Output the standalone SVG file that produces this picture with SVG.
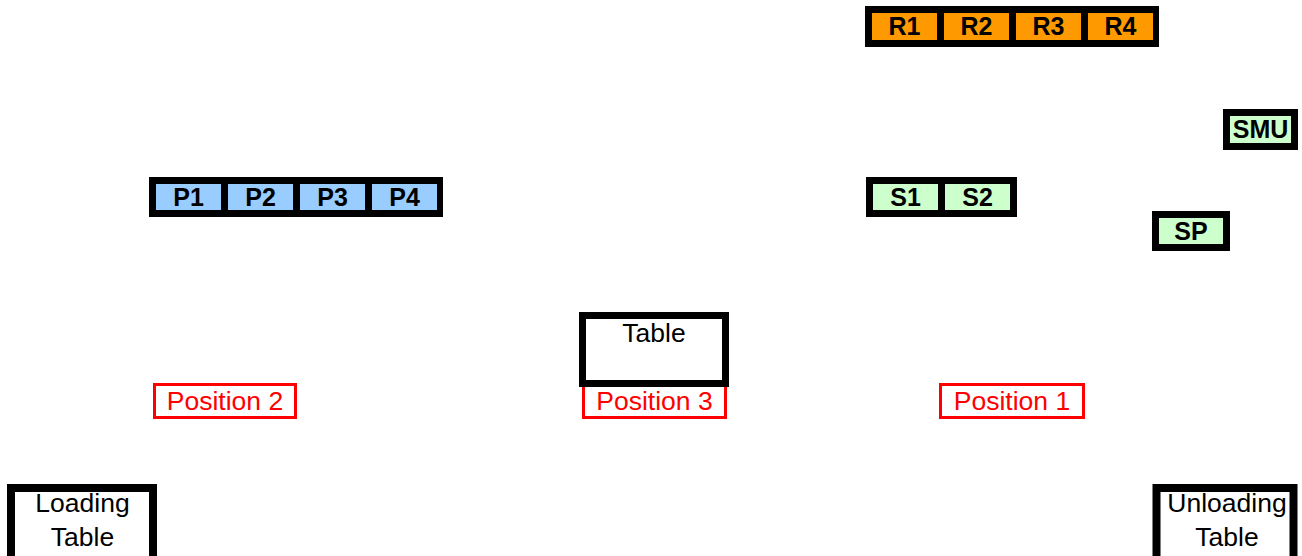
<svg xmlns="http://www.w3.org/2000/svg" width="1302" height="556" viewBox="0 0 1302 556">
<style>
.frame{fill:#000}
.r{fill:#FF9900}
.p{fill:#99CCFF}
.s{fill:#CCFFCC}
.lbl{font-family:"Liberation Sans",Arial,sans-serif;font-weight:bold;font-size:25px;fill:#000;text-anchor:middle}
.box{fill:#fff;stroke:#000;stroke-width:7}
.pos{fill:#fff;stroke:#FF0000;stroke-width:3}
.ptxt{font-family:"Liberation Sans",Arial,sans-serif;font-size:26.5px;fill:#FF0000;text-anchor:middle}
.txt{font-family:"Liberation Sans",Arial,sans-serif;font-size:26.5px;fill:#000;text-anchor:middle}
</style>
<rect width="1302" height="556" fill="#fff"/>
<g id="robots">
<rect class="frame" x="865" y="6" width="294" height="41"/>
<rect class="r" x="872" y="13" width="65" height="27"/>
<rect class="r" x="944" y="13" width="65" height="27"/>
<rect class="r" x="1016" y="13" width="65" height="27"/>
<rect class="r" x="1088" y="13" width="65" height="27"/>
<text class="lbl" x="904.5" y="35">R1</text>
<text class="lbl" x="976.5" y="35">R2</text>
<text class="lbl" x="1048.5" y="35">R3</text>
<text class="lbl" x="1120.5" y="35">R4</text>
</g>
<g id="presses">
<rect class="frame" x="149" y="177" width="294" height="40"/>
<rect class="p" x="156" y="184" width="65" height="26"/>
<rect class="p" x="228" y="184" width="65" height="26"/>
<rect class="p" x="300" y="184" width="65" height="26"/>
<rect class="p" x="372" y="184" width="65" height="26"/>
<text class="lbl" x="188.5" y="206">P1</text>
<text class="lbl" x="260.5" y="206">P2</text>
<text class="lbl" x="332.5" y="206">P3</text>
<text class="lbl" x="404.5" y="206">P4</text>
</g>
<g id="stations">
<rect class="frame" x="866" y="177" width="151" height="40"/>
<rect class="s" x="873" y="184" width="65" height="26"/>
<rect class="s" x="945" y="184" width="65" height="26"/>
<text class="lbl" x="905.5" y="206">S1</text>
<text class="lbl" x="977.5" y="206">S2</text>
</g>
<g id="smu">
<rect class="frame" x="1223" y="109" width="75" height="41"/>
<rect class="s" x="1230" y="116" width="61" height="27"/>
<text class="lbl" x="1260.5" y="138">SMU</text>
</g>
<g id="sp">
<rect class="frame" x="1152" y="211" width="78" height="40"/>
<rect class="s" x="1159" y="218" width="64" height="26"/>
<text class="lbl" x="1191" y="240">SP</text>
</g>
<g id="position2">
<rect class="pos" x="154.5" y="384.5" width="141" height="33"/>
<text class="ptxt" x="225" y="410">Position 2</text>
</g>
<g id="position3">
<rect class="pos" x="583.5" y="384.5" width="142" height="33"/>
<text class="ptxt" x="654.5" y="410">Position 3</text>
</g>
<g id="position1">
<rect class="pos" x="940.5" y="384.5" width="143" height="33"/>
<text class="ptxt" x="1012" y="410">Position 1</text>
</g>
<g id="table">
<rect class="box" x="582.5" y="315.5" width="143" height="68"/>
<text class="txt" x="654" y="342">Table</text>
</g>
<g id="loading-table">
<rect class="box" x="11" y="488" width="142" height="80" style="stroke-width:8"/>
<text class="txt" x="82.5" y="512">Loading</text>
<text class="txt" x="82.5" y="546">Table</text>
</g>
<g id="unloading-table">
<rect class="box" x="1156.5" y="488" width="137" height="80" style="stroke-width:8"/>
<text class="txt" x="1227" y="512">Unloading</text>
<text class="txt" x="1227" y="546">Table</text>
</g>
<g id="connectors"></g>
</svg>
